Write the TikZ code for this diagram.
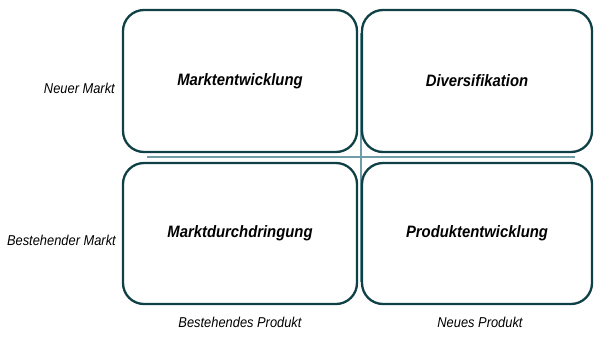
\documentclass[tikz,border=0pt]{standalone}
\usepackage{fontspec}
\setmainfont{Liberation Sans}
\newfontfamily\narrowsans[FakeStretch=0.9]{Liberation Sans}
\begin{document}
\begin{tikzpicture}[x=1pt,y=-1pt,
  quad/.style={draw=boxline, line width=2.3pt, rounded corners=21pt, fill=white,
    inner sep=0pt, font=\narrowsans\fontsize{16.5}{19}\selectfont\bfseries\itshape},
  axislabel/.style={inner sep=0pt, font=\narrowsans\fontsize{14.3}{17}\selectfont\itshape},
  divider/.style={draw=divline, line width=2.6pt}]
\definecolor{boxline}{HTML}{0F4045}
\definecolor{divline}{HTML}{6F9CA6}
\useasboundingbox (0,0) rectangle (594,338);
% cross dividing the four fields
\coordinate (hl) at (147,157);
\coordinate (hr) at (575,157);
\coordinate (vt) at (361,33);
\coordinate (vb) at (361,282);
\draw[divider] (hl) -- (hr);
\draw[divider] (vt) -- (vb);
% the four fields
\node[quad, minimum width=234pt, minimum height=142pt] (me) at (240,81) {Marktentwicklung};
\node[quad, minimum width=230pt, minimum height=142pt] (dv) at (477,81) {Diversifikation};
\node[quad, minimum width=234pt, minimum height=141pt] (md) at (240,233.5) {Marktdurchdringung};
\node[quad, minimum width=230pt, minimum height=141pt] (pe) at (477,233.5) {Produktentwicklung};
% axis labels
\node[axislabel, anchor=east] (nm) at (115,88) {Neuer Markt};
\node[axislabel, anchor=east] (bm) at (116,240) {Bestehender Markt};
\node[axislabel] (bp) at (240,322) {Bestehendes Produkt};
\node[axislabel] (np) at (480,322) {Neues Produkt};
\end{tikzpicture}
\end{document}
